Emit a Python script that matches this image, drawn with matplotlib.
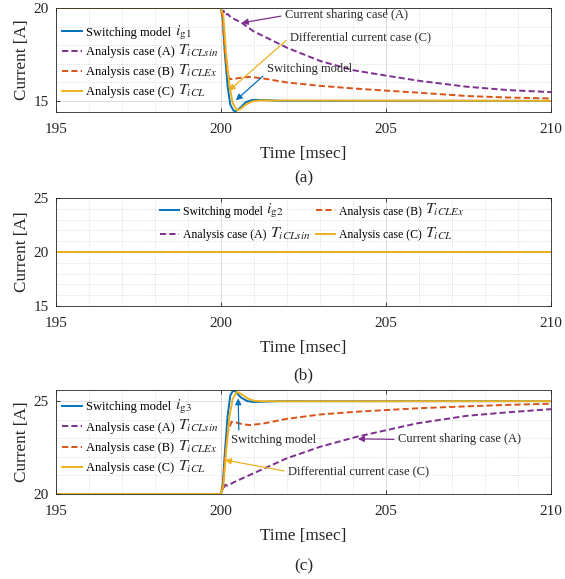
import matplotlib
matplotlib.use('Agg')
import matplotlib.pyplot as plt
from matplotlib.ticker import MultipleLocator

plt.rcParams['font.family'] = ['Liberation Serif', 'DejaVu Serif']
plt.rcParams['mathtext.fontset'] = 'stix'

# colores tipo MATLAB
C_SW = '#0072BD'
C_A = '#7E2F8E'
C_B = '#D95319'
C_C = '#EDB120'

# ---- (a) corriente ig1 : escalon de 20 A a 15 A
t_sw1 = [195, 200.0, 200.05, 200.12, 200.2, 200.28, 200.38, 200.45, 200.6, 200.75, 200.95, 201.3, 201.8, 210]
ig1_sw = [20, 20, 19.5, 17.5, 15.8, 14.8, 14.47, 14.45, 14.65, 14.93, 15.05, 15.05, 15.0, 15.0]
t_c1 = [195, 200.0, 200.07, 200.15, 200.25, 200.35, 200.48, 200.58, 200.75, 200.95, 201.2, 201.6, 210]
ig1_C = [20, 20, 19.6, 17.6, 15.9, 14.9, 14.5, 14.55, 14.8, 14.97, 15.03, 15.02, 15.0]
t_b1 = [195, 200.0, 200.05, 200.12, 200.2, 200.27, 200.45, 200.65, 200.88, 201.3, 202.0, 203.0, 204.0, 205.0, 206.0, 207.45, 208.7, 210]
ig1_B = [20, 20, 19.4, 17.5, 16.4, 16.17, 16.2, 16.26, 16.29, 16.2, 15.99, 15.81, 15.67, 15.55, 15.44, 15.26, 15.18, 15.13]
t_a1 = [195, 200.0, 200.04, 200.08, 200.13, 200.2, 200.3, 200.63, 200.98, 201.5, 202.0, 203.0, 204.0, 205.0, 206.0, 207.45, 208.7, 210]
ig1_A = [20, 20, 19.75, 19.85, 19.62, 19.68, 19.5, 19.2, 18.75, 18.3, 17.86, 17.15, 16.65, 16.36, 16.08, 15.76, 15.58, 15.47]

# ---- (b) corriente ig2 : constante
t_g2 = [195, 210]
ig2_sw = [20, 20]
ig2_A = [20, 20]
ig2_B = [20, 20]
ig2_C = [20, 20]

# ---- (c) corriente ig3 : escalon de 20 A a 25 A
t_sw3 = [195, 200.0, 200.05, 200.12, 200.2, 200.28, 200.37, 200.45, 200.6, 200.8, 201.0, 201.3, 201.8, 210]
ig3_sw = [20, 20, 20.4, 22.3, 24.2, 25.3, 25.58, 25.5, 25.2, 25.0, 24.95, 24.97, 25.0, 25.0]
t_c3 = [195, 200.0, 200.07, 200.15, 200.25, 200.35, 200.48, 200.6, 200.8, 201.0, 201.3, 210]
ig3_C = [20, 20, 20.4, 22.2, 24.1, 25.1, 25.5, 25.4, 25.15, 25.02, 24.99, 25.0]
t_b3 = [195, 200.0, 200.06, 200.12, 200.2, 200.32, 200.45, 200.65, 200.88, 201.3, 202.0, 203.0, 204.1, 205.0, 206.0, 207.45, 208.7, 210]
ig3_B = [20, 20, 20.5, 22.0, 23.3, 23.89, 23.85, 23.76, 23.71, 23.8, 24.05, 24.28, 24.43, 24.52, 24.62, 24.72, 24.8, 24.86]
t_a3 = [195, 200.0, 200.04, 200.08, 200.12, 200.2, 200.42, 200.98, 201.99, 203.0, 204.11, 205.02, 205.93, 207.45, 208.7, 210]
ig3_A = [20, 20, 20.35, 20.2, 20.5, 20.45, 20.66, 21.11, 21.92, 22.54, 23.08, 23.44, 23.8, 24.21, 24.4, 24.57]

# leyendas: texto + simbolo (el simbolo va mas grande, como en MATLAB/latex)
etiquetas = ['Switching model', 'Analysis case (A)', 'Analysis case (B)', 'Analysis case (C)']
simbolos = [r'$i_{\mathrm{g%d}}$', r'$T_{iCLsin}$', r'$T_{iCLEx}$', r'$T_{iCL}$']

DASH = (3.2, 1.6)


def trazar(ax, t_sw, y_sw, t_a, y_a, t_b, y_b, t_c, y_c):
    ax.plot(t_sw, y_sw, color=C_SW, lw=1.4, label=etiquetas[0])
    ax.plot(t_a, y_a, color=C_A, lw=1.4, dashes=DASH, label=etiquetas[1])
    ax.plot(t_b, y_b, color=C_B, lw=1.4, dashes=DASH, label=etiquetas[2])
    ax.plot(t_c, y_c, color=C_C, lw=1.4, label=etiquetas[3])


def formato(ax, ylim, yticks):
    ax.set_xlim(195, 210)
    ax.set_ylim(*ylim)
    ax.set_xticks([195, 200, 205, 210])
    ax.set_yticks(yticks)
    ax.xaxis.set_minor_locator(MultipleLocator(1))
    ax.yaxis.set_minor_locator(MultipleLocator(1))
    ax.grid(True, which='major', color='#DDDDDD', lw=0.7, ls='-')
    ax.grid(True, which='minor', color='#C4C4C4', lw=0.5, ls=(0, (1, 2)))
    ax.set_axisbelow(True)
    ax.tick_params(which='major', direction='in', top=True, right=True, length=3,
                   width=0.6, labelsize=11, pad=8, colors='#262626', labelcolor='#262626')
    ax.tick_params(axis='y', which='major', pad=5)
    ax.tick_params(which='minor', length=0)
    for s in ax.spines.values():
        s.set_color('#262626')
        s.set_linewidth(0.6)
    ax.set_xlabel('Time [msec]', fontsize=12.3, labelpad=7, color='#262626')
    ax.set_ylabel('Current [A]', fontsize=12.3, labelpad=3, color='#262626')


def nota(ax, texto, xy, xytext, color, relpos=(0, 0.5), ha='left'):
    ax.annotate(texto, xy=xy, xytext=xytext, fontsize=9, ha=ha, va='center', color='#262626',
                arrowprops=dict(arrowstyle='-|>', color=color, lw=0.9, mutation_scale=9,
                                shrinkA=1, shrinkB=0, relpos=relpos))


def simbolos_leyenda(fig, leg, n):
    # pone el simbolo de cada entrada a continuacion del texto de la leyenda
    fig.canvas.draw()
    r = fig.canvas.get_renderer()
    inv = fig.transFigure.inverted()
    for txt, s in zip(leg.get_texts(), simbolos):
        if '%d' in s:
            s = s % n
        bb = txt.get_window_extent(r)
        x, y = inv.transform((bb.x1 + 3.5, bb.y0 + 3.3))
        fig.text(x, y, s, fontsize=11.5, ha='left', va='baseline', color='#262626')


fig = plt.figure(figsize=(5.65, 5.79), dpi=100)
W, H = 565, 579
x0, x1 = 56 / W, 551 / W

ax1 = fig.add_axes([x0, 1 - 112 / H, x1 - x0, 104 / H])
ax2 = fig.add_axes([x0, 1 - 306 / H, x1 - x0, 108 / H])
ax3 = fig.add_axes([x0, 1 - 494 / H, x1 - x0, 104 / H])

leg_kw = dict(frameon=False, borderpad=0, borderaxespad=0, handlelength=1.65, handletextpad=0.3)

# (a)
trazar(ax1, t_sw1, ig1_sw, t_a1, ig1_A, t_b1, ig1_B, t_c1, ig1_C)
formato(ax1, (14.4, 20), [15, 20])
leg1 = ax1.legend(loc='upper left', bbox_to_anchor=(0.0115, 0.82), fontsize=9,
                  labelspacing=0.62, **leg_kw)
nota(ax1, 'Current sharing case (A)', (200.63, 19.2), (201.94, 19.6), C_A)
nota(ax1, 'Differential current case (C)', (200.24, 15.55), (202.09, 18.43), C_C)
nota(ax1, 'Switching model', (200.45, 15.03), (201.38, 16.7), C_SW, relpos=(0, 0.2))

# (b)
trazar(ax2, t_g2, ig2_sw, t_g2, ig2_A, t_g2, ig2_B, t_g2, ig2_C)
formato(ax2, (15, 25), [15, 20, 25])
leg2 = ax2.legend(loc='upper left', bbox_to_anchor=(0.21, 0.93), ncol=2, fontsize=8.5,
                  labelspacing=0.95, columnspacing=4.2, **leg_kw)

# (c)
trazar(ax3, t_sw3, ig3_sw, t_a3, ig3_A, t_b3, ig3_B, t_c3, ig3_C)
formato(ax3, (20, 25.6), [20, 25])
leg3 = ax3.legend(loc='upper left', bbox_to_anchor=(0.0115, 0.89), fontsize=9,
                  labelspacing=0.66, **leg_kw)
nota(ax3, 'Switching model', (200.52, 25.15), (201.585, 22.9), C_SW, relpos=(0.096, 1), ha='center')
nota(ax3, 'Current sharing case (A)', (204.15, 22.97), (205.37, 22.94), C_A)
nota(ax3, 'Differential current case (C)', (200.12, 21.83), (202.04, 21.2), C_C)

xc = (x0 + x1) / 2
fig.text(xc, 1 - 178 / H, '(a)', ha='center', va='center', fontsize=12.3, color='#262626')
fig.text(xc, 1 - 375 / H, '(b)', ha='center', va='center', fontsize=12.3, color='#262626')
fig.text(xc, 1 - 566 / H, '(c)', ha='center', va='center', fontsize=12.3, color='#262626')

simbolos_leyenda(fig, leg1, 1)
simbolos_leyenda(fig, leg2, 2)
simbolos_leyenda(fig, leg3, 3)

fig.savefig('out.png', dpi=100)
